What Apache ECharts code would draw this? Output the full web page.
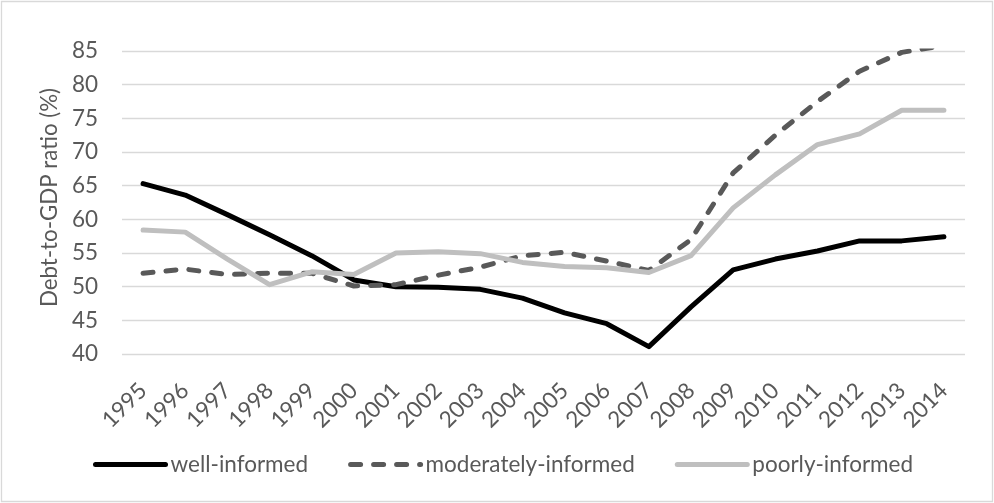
<!DOCTYPE html>
<html>
<head>
<meta charset="utf-8">
<script src="https://cdn.jsdelivr.net/npm/echarts@6/dist/echarts.min.js"></script>
<style>
  html, body { margin: 0; padding: 0; background: #fff; }
  #chart { width: 994px; height: 503px; }
</style>
</head>
<body>
<div id="chart"></div>
<script>
// Years on the category axis
const years = ['1995','1996','1997','1998','1999','2000','2001','2002','2003','2004',
               '2005','2006','2007','2008','2009','2010','2011','2012','2013','2014'];

// Debt-to-GDP ratio (%) by group
const wellInformed = [65.3, 63.6, 60.7, 57.7, 54.6, 51.0, 50.0, 49.9, 49.6, 48.3,
                      46.1, 44.5, 41.1, 47.0, 52.5, 54.1, 55.3, 56.8, 56.8, 57.4];
const moderatelyInformed = [52.0, 52.6, 51.8, 52.0, 52.0, 50.1, 50.3, 51.7, 52.9, 54.6,
                            55.1, 53.8, 52.4, 57.0, 66.9, 72.5, 77.5, 82.0, 84.8, 85.8];
const poorlyInformed = [58.4, 58.1, 54.1, 50.3, 52.2, 51.8, 55.0, 55.2, 54.9, 53.6,
                        53.0, 52.8, 52.1, 54.6, 61.7, 66.6, 71.1, 72.7, 76.2, 76.2];

// Value axis ticks
const yMin = 40, yMax = 85, yStep = 5;

const seriesNames = ['well-informed', 'moderately-informed', 'poorly-informed'];

const font = 'Lato, "Open Sans", sans-serif';
const textColor = '#595959';
const labelSize = 22.5;

const chart = echarts.init(document.getElementById('chart'), null, { renderer: 'canvas' });

function lineSeries(name, data, color, type) {
  return {
    name: name,
    type: 'line',
    data: data,
    symbol: 'none',
    showSymbol: false,
    smooth: false,
    lineStyle: {
      color: color,
      width: 5,
      type: type,
      cap: 'round',
      join: 'round'
    },
    itemStyle: { color: color },
    emphasis: { disabled: true }
  };
}

chart.setOption({
  animation: false,
  backgroundColor: '#ffffff',
  textStyle: { fontFamily: font },
  graphic: [{
    type: 'rect',
    shape: { x: 1.5, y: 1.5, width: 991, height: 500 },
    style: { fill: 'none', stroke: '#d9d9d9', lineWidth: 1.3 },
    silent: true,
    z: -1
  }],
  grid: { left: 122, right: 29, top: 51, bottom: 149, containLabel: false },
  legend: {
    left: 88,
    top: 448,
    itemWidth: 70,
    itemHeight: 14,
    itemGap: 40,
    data: seriesNames,
    itemStyle: { opacity: 0 },
    lineStyle: { width: 5, cap: 'round' },
    textStyle: { color: textColor, fontSize: labelSize, fontFamily: font }
  },
  xAxis: {
    type: 'category',
    data: years,
    boundaryGap: true,
    axisLine: { show: false },
    axisTick: { show: false },
    axisLabel: {
      rotate: 45,
      interval: 0,
      margin: 33,
      color: textColor,
      fontSize: labelSize,
      fontFamily: font
    }
  },
  yAxis: {
    type: 'value',
    min: yMin,
    max: yMax,
    interval: yStep,
    name: 'Debt-to-GDP ratio (%)',
    nameLocation: 'middle',
    nameGap: 57,
    nameTextStyle: { color: textColor, fontSize: 22.3, fontFamily: font, padding: [0, 0, 0, 10] },
    axisLine: { show: false },
    axisTick: { show: false },
    axisLabel: { color: textColor, fontSize: labelSize, fontFamily: font, margin: 24 },
    splitLine: { lineStyle: { color: '#d9d9d9', width: 1.3 } }
  },
  series: [
    lineSeries(seriesNames[0], wellInformed, '#000000', 'solid'),
    lineSeries(seriesNames[1], moderatelyInformed, '#595959', [10, 13]),
    lineSeries(seriesNames[2], poorlyInformed, '#bfbfbf', 'solid')
  ]
});
</script>
</body>
</html>
